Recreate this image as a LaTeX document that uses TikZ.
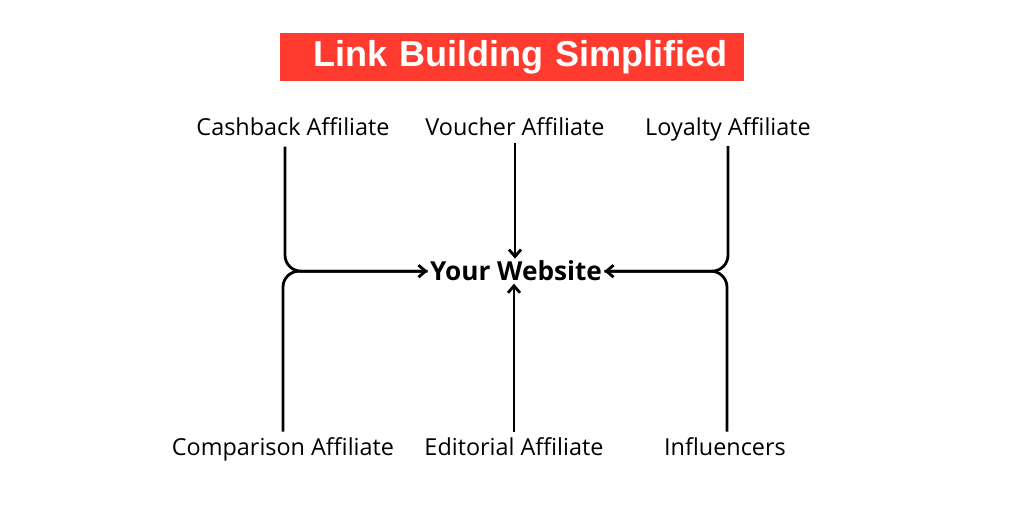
\documentclass[tikz,border=0pt]{standalone}
\usepackage{fontspec}
\setmainfont{Open Sans}
\newfontfamily\titlefont{Liberation Sans}
\usetikzlibrary{arrows.meta,positioning}
\definecolor{titlered}{RGB}{255,58,46}
\tikzset{
  affbox/.style ={font=\fontsize{11.7}{13}\selectfont, inner sep=1pt, anchor=base},
  titlebox/.style={fill=titlered, text=white, minimum width=232pt, text width=232pt,
                   align=center, minimum height=24pt, inner sep=0pt,
                   font=\titlefont\bfseries\fontsize{18}{20}\selectfont},
  sitebox/.style ={font=\bfseries\fontsize{13.1}{15}\selectfont, inner sep=1pt, anchor=base},
  arr/.style     ={-{Straight Barb[length=3.5pt,width=6pt]}, line width=1.4pt},
  brace/.style   ={line width=1.4pt, rounded corners=8pt},
}
\begin{document}
\begin{tikzpicture}[x=0.5pt, y=-0.5pt]
  \useasboundingbox (0,0) rectangle (1024,512);
  \node[titlebox] (title) at (512,57) {\hspace*{8pt}Link Building Simplified};

  \node[sitebox] (site) at (516,281) {Your Website};

  \node[affbox] (cash)  at (293,136) {Cashback Affiliate};
  \node[affbox] (vouch) at (515,136) {Voucher Affiliate};
  \node[affbox] (loyal) at (728,136) {Loyalty Affiliate};
  \node[affbox] (comp)  at (283,456) {Comparison Affiliate};
  \node[affbox] (edit)  at (514,456) {Editorial Affiliate};
  \node[affbox] (infl)  at (725,456) {Influencers};

  % left brace
  \draw[arr, brace] ([xshift=-4pt,yshift=-4pt]cash.south) |- (site.west);
  \draw[brace] ([yshift=2pt]comp.north) |- (site.west);
  % right brace
  \draw[arr, brace] ([yshift=-1pt]loyal.south) |- (site.east);
  \draw[brace] ([xshift=1pt,yshift=2pt]infl.north) |- (site.east);
  % middle
  \draw[arr] ([yshift=-2pt]vouch.south) -- (site.north -| vouch.south);
  \draw[arr] ([yshift=2pt]edit.north) -- (site.south -| edit.north);
\end{tikzpicture}
\end{document}
